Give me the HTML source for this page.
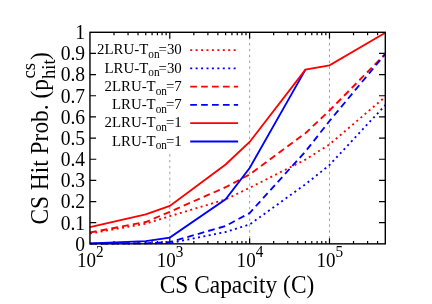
<!DOCTYPE html>
<html><head><meta charset="utf-8"><title>plot</title>
<style>
html,body{margin:0;padding:0;background:#fff;}
body{width:432px;height:304px;overflow:hidden;}
svg{display:block;will-change:transform;}
text{font-family:"Liberation Serif",serif;fill:#000;}
</style></head><body>
<svg width="432" height="304" viewBox="0 0 432 304">
<rect x="0" y="0" width="432" height="304" fill="#fff"/>

<line x1="169.80" y1="32.3" x2="169.80" y2="243.85" stroke="#888" stroke-width="0.8" stroke-dasharray="2.45 3.4" stroke-dashoffset="1.0"/>
<line x1="249.64" y1="32.3" x2="249.64" y2="243.85" stroke="#888" stroke-width="0.8" stroke-dasharray="2.45 3.4" stroke-dashoffset="1.0"/>
<line x1="329.49" y1="32.3" x2="329.49" y2="243.85" stroke="#888" stroke-width="0.8" stroke-dasharray="2.45 3.4" stroke-dashoffset="1.0"/>
<path d="M113.99 243.85 v-2.8 M113.99 32.3 v2.9 M128.05 243.85 v-2.8 M128.05 32.3 v2.9 M138.02 243.85 v-2.8 M138.02 32.3 v2.9 M145.76 243.85 v-2.8 M145.76 32.3 v2.9 M152.08 243.85 v-2.8 M152.08 32.3 v2.9 M157.43 243.85 v-2.8 M157.43 32.3 v2.9 M162.06 243.85 v-2.8 M162.06 32.3 v2.9 M166.14 243.85 v-2.8 M166.14 32.3 v2.9 M169.80 243.85 v-5.5 M169.80 32.3 v6.3 M193.83 243.85 v-2.8 M193.83 32.3 v2.9 M207.89 243.85 v-2.8 M207.89 32.3 v2.9 M217.87 243.85 v-2.8 M217.87 32.3 v2.9 M225.61 243.85 v-2.8 M225.61 32.3 v2.9 M231.93 243.85 v-2.8 M231.93 32.3 v2.9 M237.27 243.85 v-2.8 M237.27 32.3 v2.9 M241.91 243.85 v-2.8 M241.91 32.3 v2.9 M245.99 243.85 v-2.8 M245.99 32.3 v2.9 M249.64 243.85 v-5.5 M249.64 32.3 v6.3 M273.68 243.85 v-2.8 M273.68 32.3 v2.9 M287.74 243.85 v-2.8 M287.74 32.3 v2.9 M297.72 243.85 v-2.8 M297.72 32.3 v2.9 M305.45 243.85 v-2.8 M305.45 32.3 v2.9 M311.78 243.85 v-2.8 M311.78 32.3 v2.9 M317.12 243.85 v-2.8 M317.12 32.3 v2.9 M321.75 243.85 v-2.8 M321.75 32.3 v2.9 M325.84 243.85 v-2.8 M325.84 32.3 v2.9 M329.49 243.85 v-5.5 M329.49 32.3 v6.3 M353.53 243.85 v-2.8 M353.53 32.3 v2.9 M367.59 243.85 v-2.8 M367.59 32.3 v2.9 M377.56 243.85 v-2.8 M377.56 32.3 v2.9 M89.95 222.69 h6.3 M385.3 222.69 h-6.3 M89.95 201.54 h6.3 M385.3 201.54 h-6.3 M89.95 180.38 h6.3 M385.3 180.38 h-6.3 M89.95 159.23 h6.3 M385.3 159.23 h-6.3 M89.95 138.07 h6.3 M385.3 138.07 h-6.3 M89.95 116.92 h6.3 M385.3 116.92 h-6.3 M89.95 95.76 h6.3 M385.3 95.76 h-6.3 M89.95 74.61 h6.3 M385.3 74.61 h-6.3 M89.95 53.45 h6.3 M385.3 53.45 h-6.3" stroke="#000" stroke-width="1.2" fill="none"/>
<rect x="96" y="40" width="144" height="111" fill="#fff"/>
<polyline points="89.95,233.50 145.76,223.70 169.80,216.20 225.61,199.40 249.64,187.80 305.45,159.60 329.49,144.40 385.30,96.80" fill="none" stroke="#ff0000" stroke-width="1.85" stroke-linejoin="miter" stroke-dasharray="2 3.43"/>
<polyline points="89.95,243.60 145.76,243.40 169.80,243.10 225.61,232.00 249.64,224.50 305.45,184.30 329.49,165.00 385.30,105.10" fill="none" stroke="#0000ff" stroke-width="1.85" stroke-linejoin="miter" stroke-dasharray="2 3.43"/>
<polyline points="89.95,232.50 145.76,222.00 169.80,211.80 225.61,187.20 249.64,174.50 305.45,133.20 329.49,110.50 385.30,54.00" fill="none" stroke="#ff0000" stroke-width="1.85" stroke-linejoin="miter" stroke-dasharray="6.7 4.2"/>
<polyline points="89.95,243.60 145.76,243.30 169.80,242.10 225.61,226.00 249.64,213.00 305.45,151.50 329.49,121.00 385.30,54.00" fill="none" stroke="#0000ff" stroke-width="1.85" stroke-linejoin="miter" stroke-dasharray="6.7 4.2"/>
<polyline points="89.95,243.40 145.76,241.20 169.80,237.60 225.61,199.30 249.64,168.00 305.45,69.60" fill="none" stroke="#0000ff" stroke-width="1.85" stroke-linejoin="miter"/>
<polyline points="89.95,227.20 145.76,214.40 169.80,205.90 225.61,164.50 249.64,142.00 305.45,69.60 329.49,65.30 385.30,32.80" fill="none" stroke="#ff0000" stroke-width="1.85" stroke-linejoin="miter"/>
<rect x="89.95" y="32.3" width="295.35" height="211.55" fill="none" stroke="#000" stroke-width="1.4"/>
<line x1="190.2" y1="50.10" x2="238.1" y2="50.10" stroke="#ff0000" stroke-width="1.85" stroke-dasharray="2 3.43"/>
<text transform="translate(181.8,54.35) scale(0.965,1)" font-size="15.4" text-anchor="end">2LRU-T<tspan font-size="11.70" dy="3.7">on</tspan><tspan dy="-3.7" dx="-1.0">=30</tspan></text>
<line x1="190.2" y1="68.37" x2="238.1" y2="68.37" stroke="#0000ff" stroke-width="1.85" stroke-dasharray="2 3.43"/>
<text transform="translate(181.8,72.62) scale(0.965,1)" font-size="15.4" text-anchor="end">LRU-T<tspan font-size="11.70" dy="3.7">on</tspan><tspan dy="-3.7" dx="-1.0">=30</tspan></text>
<line x1="190.2" y1="86.64" x2="238.1" y2="86.64" stroke="#ff0000" stroke-width="1.85" stroke-dasharray="6.7 4.2"/>
<text transform="translate(181.8,90.89) scale(0.965,1)" font-size="15.4" text-anchor="end">2LRU-T<tspan font-size="11.70" dy="3.7">on</tspan><tspan dy="-3.7" dx="-1.0">=7</tspan></text>
<line x1="190.2" y1="104.91" x2="238.1" y2="104.91" stroke="#0000ff" stroke-width="1.85" stroke-dasharray="6.7 4.2"/>
<text transform="translate(181.8,109.16) scale(0.965,1)" font-size="15.4" text-anchor="end">LRU-T<tspan font-size="11.70" dy="3.7">on</tspan><tspan dy="-3.7" dx="-1.0">=7</tspan></text>
<line x1="190.2" y1="123.18" x2="238.1" y2="123.18" stroke="#ff0000" stroke-width="1.85"/>
<text transform="translate(181.8,127.43) scale(0.965,1)" font-size="15.4" text-anchor="end">2LRU-T<tspan font-size="11.70" dy="3.7">on</tspan><tspan dy="-3.7" dx="-1.0">=1</tspan></text>
<line x1="190.2" y1="141.45" x2="238.1" y2="141.45" stroke="#0000ff" stroke-width="1.85"/>
<text transform="translate(181.8,145.70) scale(0.965,1)" font-size="15.4" text-anchor="end">LRU-T<tspan font-size="11.70" dy="3.7">on</tspan><tspan dy="-3.7" dx="-1.0">=1</tspan></text>
<text transform="translate(85.1,250.65) scale(0.96,1)" font-size="20.4" text-anchor="end">0</text>
<text transform="translate(85.1,229.50) scale(0.96,1)" font-size="20.4" text-anchor="end">0.1</text>
<text transform="translate(85.1,208.34) scale(0.96,1)" font-size="20.4" text-anchor="end">0.2</text>
<text transform="translate(85.1,187.19) scale(0.96,1)" font-size="20.4" text-anchor="end">0.3</text>
<text transform="translate(85.1,166.03) scale(0.96,1)" font-size="20.4" text-anchor="end">0.4</text>
<text transform="translate(85.1,144.88) scale(0.96,1)" font-size="20.4" text-anchor="end">0.5</text>
<text transform="translate(85.1,123.72) scale(0.96,1)" font-size="20.4" text-anchor="end">0.6</text>
<text transform="translate(85.1,102.56) scale(0.96,1)" font-size="20.4" text-anchor="end">0.7</text>
<text transform="translate(85.1,81.41) scale(0.96,1)" font-size="20.4" text-anchor="end">0.8</text>
<text transform="translate(85.1,60.25) scale(0.96,1)" font-size="20.4" text-anchor="end">0.9</text>
<text transform="translate(85.1,39.10) scale(0.96,1)" font-size="20.4" text-anchor="end">1</text>
<text transform="translate(90.25,266.6) scale(0.935,1)" font-size="20.4" text-anchor="middle">10<tspan font-size="16.32" dy="-9.8">2</tspan></text>
<text transform="translate(170.10,266.6) scale(0.935,1)" font-size="20.4" text-anchor="middle">10<tspan font-size="16.32" dy="-9.8">3</tspan></text>
<text transform="translate(249.94,266.6) scale(0.935,1)" font-size="20.4" text-anchor="middle">10<tspan font-size="16.32" dy="-9.8">4</tspan></text>
<text transform="translate(329.79,266.6) scale(0.935,1)" font-size="20.4" text-anchor="middle">10<tspan font-size="16.32" dy="-9.8">5</tspan></text>
<text transform="translate(237,292.8) scale(0.951,1)" font-size="24.6" text-anchor="middle">CS Capacity (C)</text>
<g transform="translate(47.5,224.6) rotate(-90) scale(0.951,1)"><text x="0" y="0" font-size="24.6">CS Hit Prob. (p<tspan font-size="19.68" dy="7">hit</tspan><tspan dy="-7" dx="-0.7" font-size="24.6">)</tspan></text><text x="153.52" y="-13" font-size="19.68">cs</text></g>
</svg></body></html>
